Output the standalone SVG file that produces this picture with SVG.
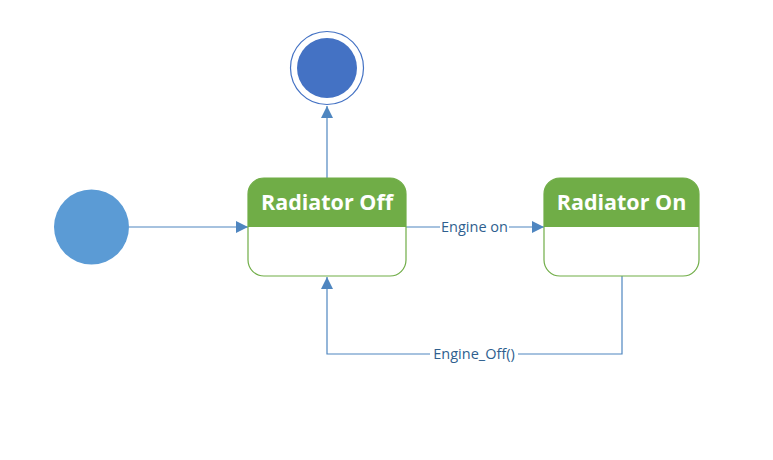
<svg xmlns="http://www.w3.org/2000/svg" width="773" height="460" viewBox="0 0 773 460">
<style>
.conn{fill:none;stroke:#4f86c0;stroke-width:1.2}
.hdr{fill:#70ad47}
.body{fill:#ffffff;stroke:#70ad47;stroke-width:1.2}
.title{font-family:"Open Sans","Liberation Sans",sans-serif;font-weight:bold;font-size:21.5px;fill:#ffffff;text-anchor:middle}
.lbl{font-family:"Open Sans","Liberation Sans",sans-serif;font-size:14.5px;fill:#2f5f8f;text-anchor:middle}
</style>
<defs>
<marker id="arr" viewBox="0 0 12 12" refX="12" refY="6" markerWidth="12" markerHeight="12" markerUnits="userSpaceOnUse" orient="auto">
<path d="M0,0 L12,6 L0,12 Z" fill="#4f86c0"/>
</marker>
</defs>
<rect width="773" height="460" fill="#ffffff"/>
<g id="connectors">
<line class="conn" x1="129" y1="227" x2="248" y2="227" marker-end="url(#arr)"/>
<line class="conn" x1="327" y1="178" x2="327" y2="106" marker-end="url(#arr)"/>
<line class="conn" x1="406" y1="227" x2="544" y2="227" marker-end="url(#arr)"/>
<polyline class="conn" points="622,276 622,354 327,354 327,277" marker-end="url(#arr)"/>
<rect x="440" y="219" width="69" height="16" fill="#ffffff"/>
<text class="lbl" x="474.5" y="232">Engine on</text>
<rect x="430" y="346" width="88" height="16" fill="#ffffff"/>
<text class="lbl" x="474" y="359">Engine_Off()</text>
</g>
<g id="start">
<circle cx="91.5" cy="227" r="37.5" fill="#5b9bd5"/>
</g>
<g id="final">
<circle cx="327" cy="68" r="36.5" fill="#ffffff" stroke="#4472c4" stroke-width="1.2"/>
<circle cx="327" cy="68" r="30" fill="#4472c4"/>
</g>
<g id="radiator-off">
<rect class="body" x="248" y="178" width="158" height="98" rx="16" ry="16"/>
<path class="hdr" d="M248,227 L248,194 A16,16 0 0 1 264,178 L390,178 A16,16 0 0 1 406,194 L406,227 Z"/>
<text class="title" x="327" y="210">Radiator Off</text>
</g>
<g id="radiator-on">
<rect class="body" x="544" y="178" width="155" height="98" rx="16" ry="16"/>
<path class="hdr" d="M544,227 L544,194 A16,16 0 0 1 560,178 L683,178 A16,16 0 0 1 699,194 L699,227 Z"/>
<text class="title" x="621.5" y="210">Radiator On</text>
</g>
</svg>
